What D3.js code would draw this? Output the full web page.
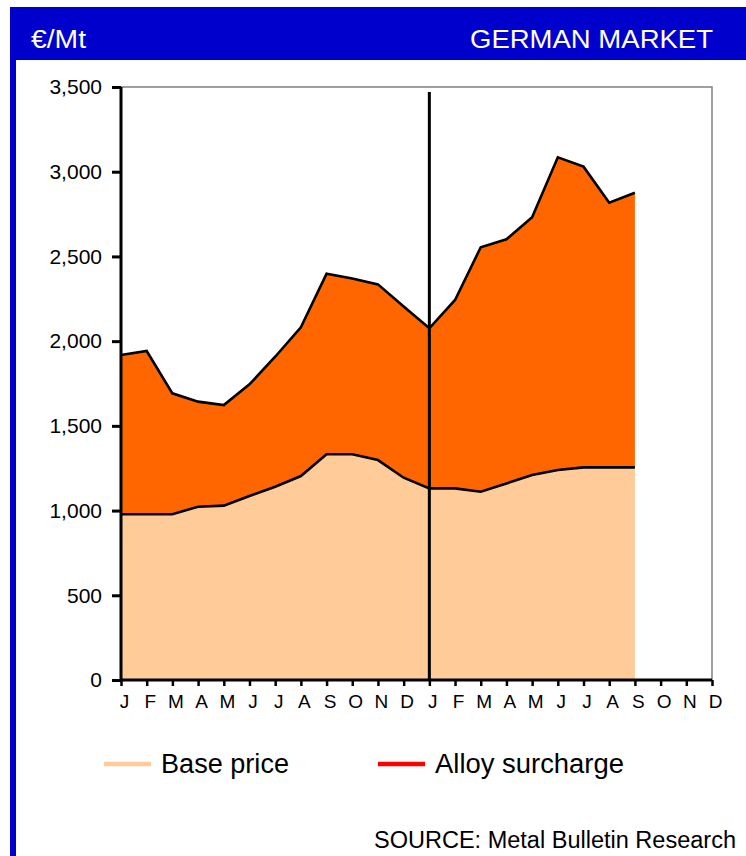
<!DOCTYPE html>
<html>
<head>
<meta charset="utf-8">
<script src="https://cdn.jsdelivr.net/npm/d3@7"></script>
<style>
  html, body { margin: 0; padding: 0; background: #fff; }
  svg { display: block; font-family: "Liberation Sans", Arial, sans-serif; }
</style>
</head>
<body>
<svg id="chart" width="746" height="856"></svg>
<script>
// ---- data ----
const monthLabels = ["J","F","M","A","M","J","J","A","S","O","N","D",
                     "J","F","M","A","M","J","J","A","S","O","N","D"];
const basePrice = [978, 978, 978, 1023, 1029, 1086, 1141, 1204, 1332, 1332, 1298, 1194,
                   1131, 1131, 1111, 1160, 1210, 1239, 1255, 1255, 1255];
const alloySurcharge = [940, 964, 714, 620, 594, 659, 767, 878, 1066, 1038, 1037, 1011,
                        945, 1112, 1443, 1441, 1521, 1846, 1775, 1562, 1621];
const yTicks = [0, 500, 1000, 1500, 2000, 2500, 3000, 3500];
const seriesNames = ["Base price", "Alloy surcharge"];
const headerLeft = "€/Mt";
const headerRight = "GERMAN MARKET";
const sourceText = "SOURCE: Metal Bulletin Research";

// ---- layout ----
const svg = d3.select("#chart");
const blue = "#0000CC";
const plot = { left: 121, right: 712, top: 87, bottom: 680 };

// frame
svg.append("rect").attr("x", 10).attr("y", 7).attr("width", 736).attr("height", 53).attr("fill", blue);
svg.append("rect").attr("x", 10).attr("y", 60).attr("width", 6).attr("height", 796).attr("fill", blue);
svg.append("text").attr("x", 31).attr("y", 48).attr("fill", "#fff")
  .attr("font-size", 26).attr("textLength", 55).attr("lengthAdjust", "spacingAndGlyphs").text(headerLeft);
svg.append("text").attr("x", 470).attr("y", 48).attr("fill", "#fff")
  .attr("font-size", 26).attr("textLength", 243).attr("lengthAdjust", "spacingAndGlyphs").text(headerRight);

// scales
const x = d3.scalePoint().domain(d3.range(monthLabels.length)).range([plot.left, plot.right]);
const y = d3.scaleLinear().domain([0, 3500]).range([plot.bottom, plot.top]);

// stacked data
const rows = basePrice.map((b, i) => ({ i, base: b, alloy: alloySurcharge[i] }));
const stack = d3.stack().keys(["base", "alloy"])(rows);

const area = d3.area().x(d => x(d.data.i)).y0(d => y(d[0])).y1(d => y(d[1]));
const topLine = d3.line().x(d => x(d.data.i)).y(d => y(d[1]));
const fills = ["#FFCC99", "#FF6600"];

// plot border (top & right)
svg.append("path")
  .attr("d", `M${plot.left},${plot.top}H${plot.right}V${plot.bottom}`)
  .attr("fill", "none").attr("stroke", "#808080").attr("stroke-width", 1.5);

stack.forEach((s, k) => {
  svg.append("path").datum(s).attr("d", area).attr("fill", fills[k]);
});
stack.forEach((s, k) => {
  svg.append("path").datum(s).attr("d", topLine)
    .attr("fill", "none").attr("stroke", "#000").attr("stroke-width", 2.6)
    .attr("stroke-linejoin", "miter");
});

// year divider
svg.append("line").attr("x1", x(12)).attr("x2", x(12)).attr("y1", 92).attr("y2", plot.bottom)
  .attr("stroke", "#000").attr("stroke-width", 3);

// y axis
const yAxis = svg.append("g").attr("transform", `translate(${plot.left},0)`)
  .call(d3.axisLeft(y).tickValues(yTicks).tickFormat(d3.format(",")).tickSize(9).tickPadding(10));
yAxis.select(".domain").attr("stroke", "#000").attr("stroke-width", 3)
  .attr("d", `M0,${plot.top}V${plot.bottom}`);
yAxis.selectAll(".tick line").attr("stroke", "#000").attr("stroke-width", 3);
yAxis.selectAll(".tick text").attr("font-size", 21).attr("fill", "#000")
  .attr("font-family", "Liberation Sans, Arial, sans-serif");

// x axis
const xAxis = svg.append("g").attr("transform", `translate(0,${plot.bottom})`)
  .call(d3.axisBottom(x).tickFormat(i => monthLabels[i]).tickSize(6).tickPadding(10));
xAxis.select(".domain").attr("stroke", "#000").attr("stroke-width", 3)
  .attr("d", `M${plot.left},0H${plot.right}`);
xAxis.selectAll(".tick line").attr("stroke", "#000").attr("stroke-width", 2.5);
xAxis.selectAll(".tick text").attr("font-size", 19).attr("fill", "#000")
  .attr("font-family", "Liberation Sans, Arial, sans-serif")
  .attr("dx", 3).attr("dy", 0).attr("y", 28);

// legend
const legendColors = ["#FFCC99", "#FF0000"];
const legendX = [104, 378];
const legendTextLen = [128, 189];
seriesNames.forEach((name, k) => {
  svg.append("line").attr("x1", legendX[k]).attr("x2", legendX[k] + 47)
    .attr("y1", 764).attr("y2", 764).attr("stroke", legendColors[k]).attr("stroke-width", 4.5);
  svg.append("text").attr("x", legendX[k] + 57).attr("y", 773).attr("font-size", 27)
    .attr("textLength", legendTextLen[k]).attr("lengthAdjust", "spacingAndGlyphs")
    .attr("fill", "#000").text(name);
});

// source
svg.append("text").attr("x", 374).attr("y", 848)
  .attr("font-size", 23.5).attr("textLength", 362).attr("lengthAdjust", "spacingAndGlyphs")
  .attr("fill", "#000").text(sourceText);
</script>
</body>
</html>
